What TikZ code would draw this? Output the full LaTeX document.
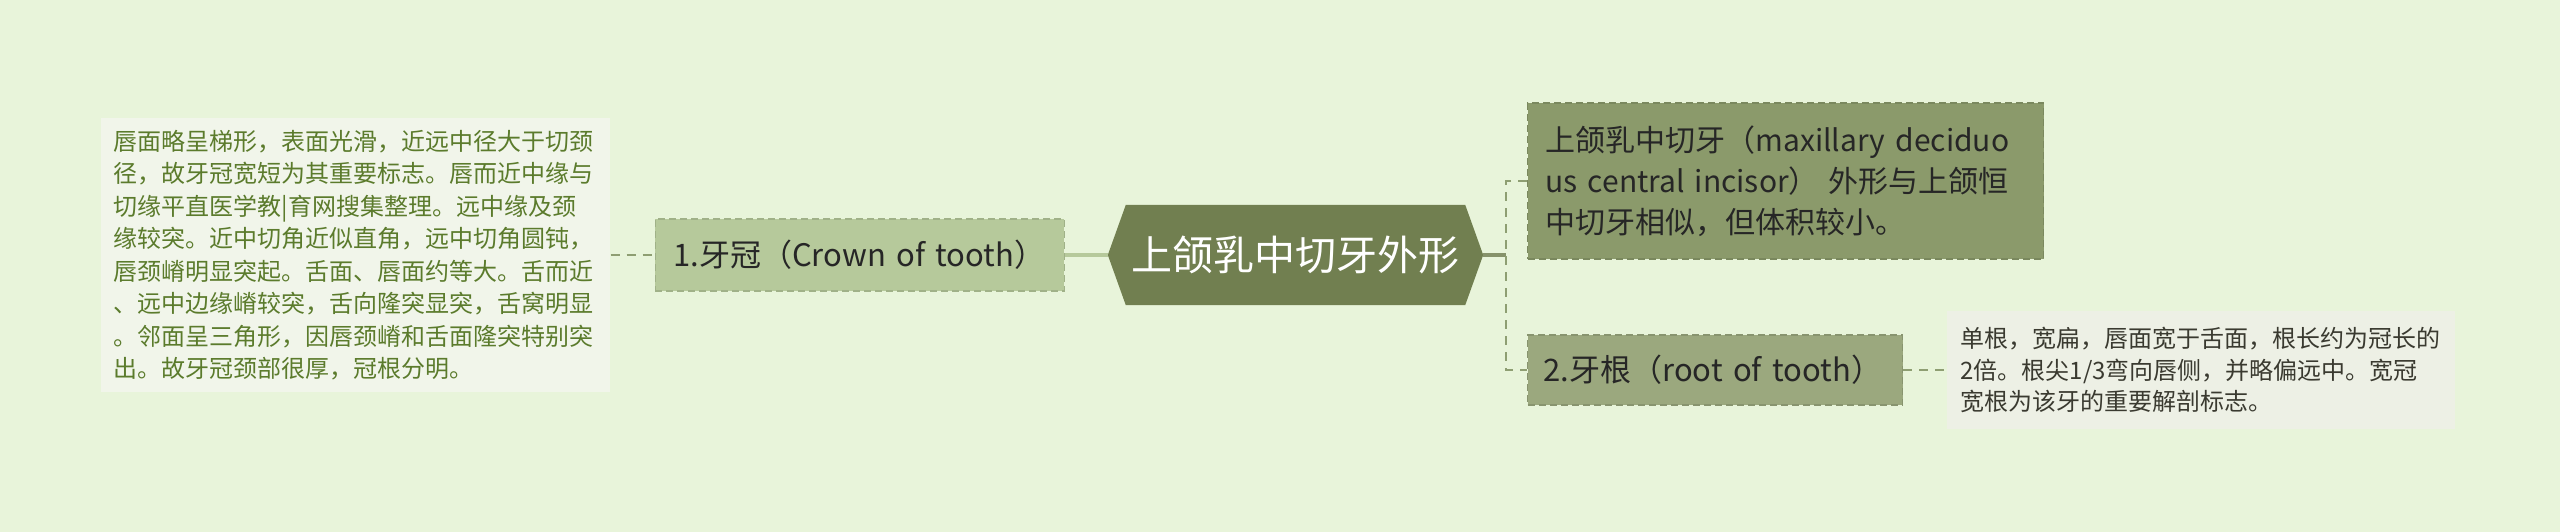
\documentclass[tikz,border=0pt]{standalone}
\usepackage{fontspec}
\setmainfont{Noto Sans CJK SC}
\usetikzlibrary{positioning,backgrounds}
\definecolor{bgcol}{HTML}{E8F4DA}
\definecolor{notefill}{HTML}{F1F5EA}
\definecolor{notetext}{HTML}{5B7B2C}
\definecolor{sidefill}{HTML}{EDF0E5}
\definecolor{sidetext}{HTML}{3A3A30}
\definecolor{crownfill}{HTML}{B6C99B}
\definecolor{topicfill}{HTML}{717F50}
\definecolor{detailfill}{HTML}{8B9A6B}
\definecolor{rootfill}{HTML}{9BA87E}
\definecolor{linkcol}{HTML}{8E9E72}
\tikzset{%
topic/.style={minimum width=339pt,minimum height=100pt,inner sep=0,text=white,
  font=\fontsize{41pt}{48pt}\selectfont},
subbox/.style={fill=#1,draw=#1!88!black,dash pattern=on 7pt off 4pt,line width=1.2pt,
  align=left,inner ysep=0pt,text=black!85},
crownbox/.style={subbox=crownfill,minimum height=72pt,text width=373pt,inner xsep=18pt,
  font=\fontsize{31pt}{36pt}\selectfont},
rootbox/.style={subbox=rootfill,minimum height=70pt,text width=343pt,inner xsep=16pt,
  font=\fontsize{31pt}{36pt}\selectfont},
detailbox/.style={subbox=detailfill,minimum height=156pt,text width=480pt,inner xsep=18pt,
  font=\fontsize{30pt}{41pt}\selectfont},
note/.style={fill=#1,align=left,inner ysep=0pt},
leftnote/.style={note=notefill,text=notetext,minimum height=274pt,text width=484pt,
  inner xsep=12.5pt,font=\fontsize{24pt}{32.5pt}\selectfont},
sidenote/.style={note=sidefill,text=sidetext,minimum height=118pt,text width=482pt,
  inner xsep=13pt,font=\fontsize{24pt}{31.5pt}\selectfont},
trunk/.style={line width=3.5pt,draw=#1},
twig/.style={line width=2.5pt,draw=linkcol,dash pattern=on 9pt off 7pt}
}

\begin{document}
\begin{tikzpicture}[x=1pt,y=-1pt]
  \useasboundingbox (0,0) rectangle (2560,532);

  % centre topic
  \node[topic] (root) at (1295.5,255) {上颌乳中切牙外形};
  \coordinate (rootW) at ([xshift=-18pt]root.west);
  \coordinate (rootE) at ([xshift=18pt]root.east);
  \coordinate (fork) at ([xshift=23pt]rootE);

  % left branch
  \node[crownbox, left=43pt of rootW] (crown) {1.牙冠（Crown of tooth）};
  \node[leftnote, left=44pt of crown] (crownnote) {唇面略呈梯形，表面光滑，近远中径大于切颈\\
    径，故牙冠宽短为其重要标志。唇而近中缘与\\
    切缘平直医学教|育网搜集整理。远中缘及颈\\
    缘较突。近中切角近似直角，远中切角圆钝，\\
    唇颈嵴明显突起。舌面、唇面约等大。舌而近\\
    、远中边缘嵴较突，舌向隆突显突，舌窝明显\\
    。邻面呈三角形，因唇颈嵴和舌面隆突特别突\\
    出。故牙冠颈部很厚，冠根分明。};

  % right branches
  \node[detailbox, anchor=west] (shape) at (1527,181) {上颌乳中切牙（maxillary deciduo\\
    us central incisor） 外形与上颌恒\\
    中切牙相似，但体积较小。};
  \node[rootbox, anchor=west] (root2) at (1527,370) {2.牙根（root of tooth）};
  \node[sidenote, right=44pt of root2] (rootnote) {单根，宽扁，唇面宽于舌面，根长约为冠长的\\
    2倍。根尖1/3弯向唇侧，并略偏远中。宽冠\\
    宽根为该牙的重要解剖标志。};

  \begin{pgfonlayer}{background}
    \fill[bgcol] (0,0) rectangle (2560,532);
    \fill[topicfill] (rootW) -- (root.north west) -- (root.north east) -- (rootE)
      -- (root.south east) -- (root.south west) -- cycle;
  \end{pgfonlayer}

  % connectors
  \draw[twig] (crownnote.east) -- (crown.west);
  \draw[trunk=crownfill] (crown.east) -- (rootW);
  \draw[trunk=topicfill!85!white] (rootE) -- (fork);
  \draw[twig] (shape.west) -- (shape.west -| fork) -- (root2.west -| fork) -- (root2.west);
  \draw[twig] (root2.east) -- (rootnote.west);
\end{tikzpicture}
\end{document}
